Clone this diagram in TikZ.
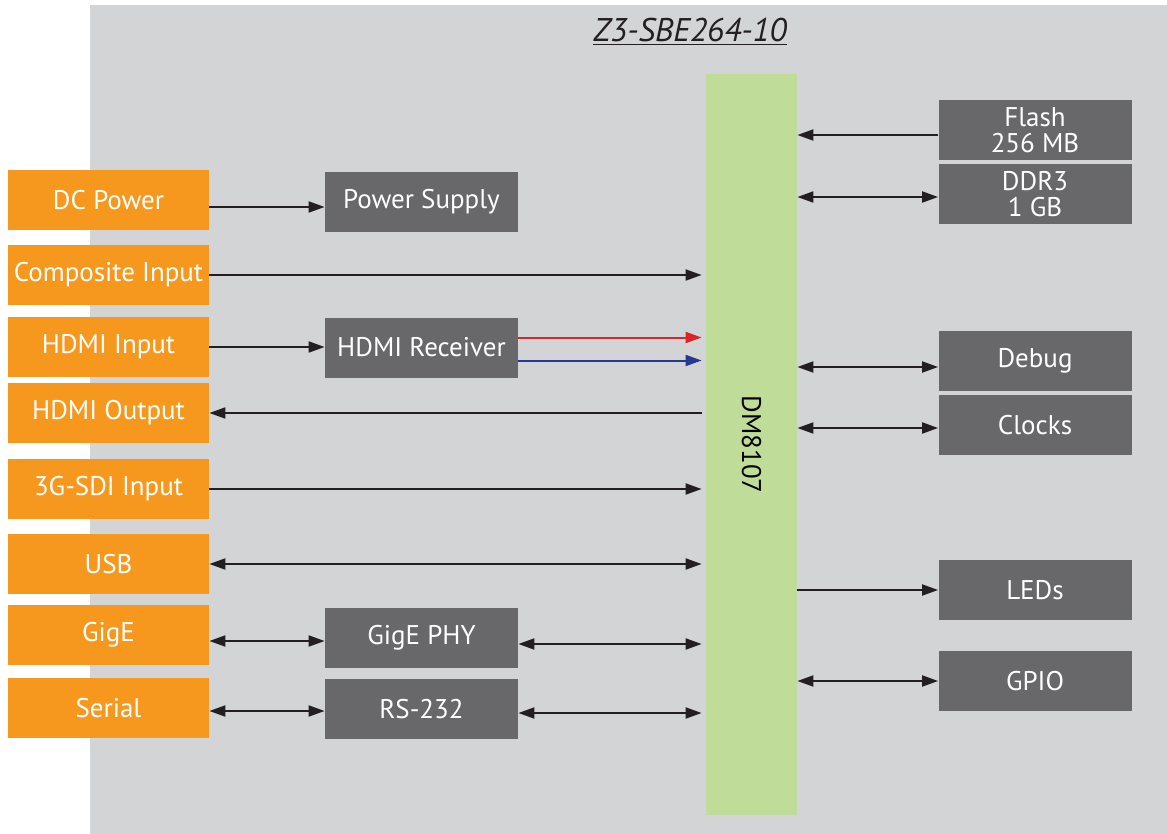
\documentclass[tikz,border=0pt]{standalone}
\usepackage{fontspec}
\setmainfont{PT Sans}
\usepackage{xcolor}
\usetikzlibrary{arrows.meta}

\definecolor{BoardGray}{RGB}{211,212,214}
\definecolor{PortOrange}{RGB}{247,152,30}
\definecolor{ChipGray}{RGB}{104,104,106}
\definecolor{SocGreen}{RGB}{191,220,153}
\definecolor{WireBlack}{RGB}{35,31,32}
\definecolor{WireRed}{RGB}{218,37,40}
\definecolor{WireBlue}{RGB}{40,56,145}

\begin{document}
\begin{tikzpicture}[x=0.5pt, y=-0.5pt,
	port/.style={fill=PortOrange, text=white, minimum width=100.5pt, minimum height=30pt, inner sep=0pt, font=\fontsize{13.5}{15}\selectfont},
	chip/.style={fill=ChipGray, text=white, minimum width=96.5pt, minimum height=30pt, inner sep=0pt, align=center, font=\fontsize{13.5}{13}\selectfont},
	wire/.style={WireBlack, line width=1pt, -{Triangle[length=8pt,width=5.5pt]}},
	bus/.style={WireBlack, line width=1pt, {Triangle[length=8pt,width=5.5pt]}-{Triangle[length=8pt,width=5.5pt]}}]
	\useasboundingbox (0,0) rectangle (1167,834);
	\fill[BoardGray] (90,5) rectangle (1167,834);
	\node[WireBlack, font=\fontsize{16.4}{18}\selectfont\itshape] (title) at (690,32) {\underline{Z3-SBE264-10}};

	\node[fill=SocGreen, minimum width=45.5pt, minimum height=370.5pt, inner sep=0pt, font=\fontsize{13.5}{15}\selectfont] (soc) at (751.5,444.5) {\rotatebox{-90}{DM8107}};

	\node[port] (dcin) at (108.5,200) {DC Power};
	\node[port] (comp) at (108.5,275) {Composite Input};
	\node[port] (hdmiin) at (108.5,347) {HDMI Input};
	\node[port] (hdmiout) at (108.5,413) {HDMI Output};
	\node[port] (sdi) at (108.5,489) {3G-SDI Input};
	\node[port] (usb) at (108.5,564) {USB};
	\node[port] (gige) at (108.5,635) {GigE};
	\node[port] (serial) at (108.5,708) {Serial};

	\node[chip] (psu) at (421.5,202) {Power Supply};
	\node[chip] (hdmirx) at (421.5,347.5) {HDMI Receiver};
	\node[chip] (phy) at (421.5,638) {GigE PHY};
	\node[chip] (rs) at (421.5,709) {RS-232};

	\node[chip] (flash) at (1035,130) {Flash\\256 MB};
	\node[chip] (ddr) at (1035,194.5) {DDR3\\1 GB};
	\node[chip] (debug) at (1035,361) {Debug};
	\node[chip] (clk) at (1035,425) {Clocks};
	\node[chip] (leds) at (1035,590) {LEDs};
	\node[chip] (gpio) at (1035,681) {GPIO};

	% left side
	\draw[wire] ([yshift=-3.5pt]dcin.east) -- ([yshift=-3.5pt]dcin.east -| psu.west);
	\draw[wire, shorten >=2pt] (comp) -- (comp -| soc.west);
	\draw[wire] (hdmiin) -- (hdmiin -| hdmirx.west);
	\draw[wire, WireRed, shorten >=2pt] ([yshift=5pt]hdmirx.east) -- ([yshift=5pt]hdmirx.east -| soc.west);
	\draw[wire, WireBlue, shorten >=2pt] ([yshift=-6.5pt]hdmirx.east) -- ([yshift=-6.5pt]hdmirx.east -| soc.west);
	\draw[wire, shorten <=2pt] (hdmiout -| soc.west) -- (hdmiout);
	\draw[wire, shorten >=2pt] (sdi) -- (sdi -| soc.west);
	\draw[bus, shorten >=2pt] (usb) -- (usb -| soc.west);
	\draw[bus] ([yshift=-3pt]gige.east) -- ([yshift=-3pt]gige.east -| phy.west);
	\draw[bus, shorten >=2pt] ([yshift=-3pt]phy.east) -- ([yshift=-3pt]phy.east -| soc.west);
	\draw[bus] ([yshift=-1.5pt]serial.east) -- ([yshift=-1.5pt]serial.east -| rs.west);
	\draw[bus, shorten >=2pt] ([yshift=-2pt]rs.east) -- ([yshift=-2pt]rs.east -| soc.west);

	% right side
	\draw[wire] ([yshift=-2.5pt]flash.west) -- ([yshift=-2.5pt]flash.west -| soc.east);
	\draw[bus] ([yshift=-1.25pt]ddr.west -| soc.east) -- ([yshift=-1.25pt]ddr.west);
	\draw[bus] ([yshift=-3pt]debug.west -| soc.east) -- ([yshift=-3pt]debug.west);
	\draw[bus] ([yshift=-1.5pt]clk.west -| soc.east) -- ([yshift=-1.5pt]clk.west);
	\draw[wire] (soc.east |- leds) -- (leds);
	\draw[bus] (soc.east |- gpio) -- (gpio);
\end{tikzpicture}
\end{document}
